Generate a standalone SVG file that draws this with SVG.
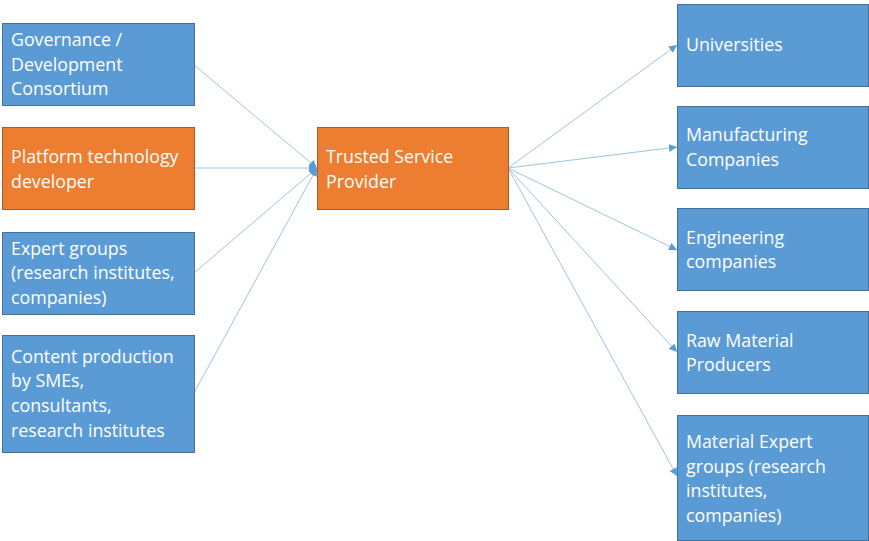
<svg xmlns="http://www.w3.org/2000/svg" width="869" height="541" viewBox="0 0 869 541">
<defs>
<style>
.b{fill:#5B9BD5;stroke:#41719C;stroke-width:1}
.o{fill:#ED7D31;stroke:#AE5A21;stroke-width:1}
text{font-family:"Open Sans","Liberation Sans",sans-serif;font-size:17.8px;fill:#ffffff}
.c{stroke:#9DC3E6;stroke-width:1;fill:none;marker-end:url(#a)}
</style>
<marker id="a" viewBox="0 0 10 10" refX="10" refY="5" markerWidth="8" markerHeight="8" markerUnits="userSpaceOnUse" orient="auto">
<path d="M0,0 L10,5 L0,10 z" fill="#5B9BD5"/>
</marker>
</defs>
<rect width="869" height="541" fill="#ffffff"/>
<g id="connectors">
<line class="c" x1="194" y1="65" x2="317" y2="168"/>
<line class="c" x1="194" y1="168" x2="317" y2="168"/>
<line class="c" x1="194" y1="273" x2="317" y2="168"/>
<line class="c" x1="194" y1="393" x2="317" y2="168"/>
<line class="c" x1="508" y1="168" x2="677" y2="45"/>
<line class="c" x1="508" y1="168" x2="677" y2="147"/>
<line class="c" x1="508" y1="168" x2="677" y2="250"/>
<line class="c" x1="508" y1="168" x2="677" y2="352"/>
<line class="c" x1="508" y1="168" x2="677" y2="476"/>
</g>
<g id="governance"><rect class="b" x="2.5" y="23.5" width="192" height="82"/><text x="11" y="46">Governance /</text><text x="11" y="71">Development</text><text x="11" y="95">Consortium</text></g>
<g id="platform"><rect class="o" x="2.5" y="127.5" width="192" height="82"/><text x="11" y="163">Platform technology</text><text x="11" y="188">developer</text></g>
<g id="expert"><rect class="b" x="2.5" y="232.5" width="192" height="82"/><text x="11" y="255">Expert groups</text><text x="11" y="279">(research institutes,</text><text x="11" y="304">companies)</text></g>
<g id="content"><rect class="b" x="2.5" y="335.5" width="192" height="117"/><text x="11" y="363">Content production</text><text x="11" y="387">by SMEs,</text><text x="11" y="412">consultants,</text><text x="11" y="437">research institutes</text></g>
<g id="trusted"><rect class="o" x="317.5" y="127.5" width="191" height="82"/><text x="326" y="163">Trusted Service</text><text x="326" y="188">Provider</text></g>
<g id="universities"><rect class="b" x="677.5" y="4.5" width="191" height="82"/><text x="686" y="51">Universities</text></g>
<g id="manufacturing"><rect class="b" x="677.5" y="106.5" width="191" height="82"/><text x="686" y="141">Manufacturing</text><text x="686" y="166">Companies</text></g>
<g id="engineering"><rect class="b" x="677.5" y="208.5" width="191" height="82"/><text x="686" y="244">Engineering</text><text x="686" y="268">companies</text></g>
<g id="raw"><rect class="b" x="677.5" y="311.5" width="191" height="82"/><text x="686" y="347">Raw Material</text><text x="686" y="371">Producers</text></g>
<g id="material"><rect class="b" x="677.5" y="415.5" width="191" height="125"/><text x="686" y="448">Material Expert</text><text x="686" y="473">groups (research</text><text x="686" y="497">institutes,</text><text x="686" y="522">companies)</text></g>
</svg>
